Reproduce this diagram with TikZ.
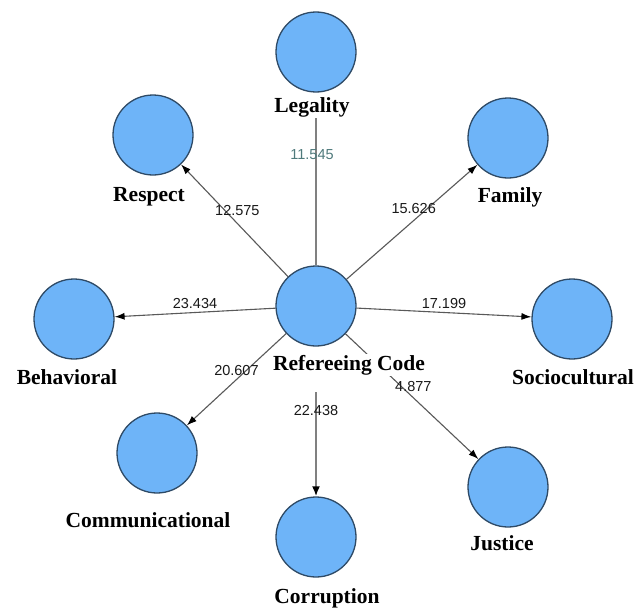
\documentclass[tikz,border=0pt]{standalone}
\usepackage{fontspec}
\setmainfont{Liberation Serif}
\newfontfamily\numfont{Liberation Sans}
\usetikzlibrary{arrows.meta,positioning,backgrounds}
\definecolor{lvblue}{HTML}{6EB4F8}
\definecolor{lvline}{HTML}{2E4A66}
\definecolor{wtteal}{HTML}{4F7A7C}

\begin{document}
\begin{tikzpicture}[x=1pt,y=-1pt,on grid,
        lv/.style={circle,draw=lvline,line width=1.3pt,fill=lvblue,minimum size=80pt,inner sep=0pt},
        lbl/.style={fill=white,inner sep=1pt,font=\fontsize{21.5}{24}\selectfont\bfseries},
        wt/.style={font=\numfont\fontsize{14.5}{16}\selectfont,text=black!90},
        lnk/.style={draw=black!65,line width=1.1pt,-{Latex[length=10pt,width=7pt,color=black]}},
        vlnk/.style={draw=black!50,line width=2pt}]
        \useasboundingbox (0,0) rectangle (636,610);
        % latent variables
        \node[lv] (ref) at (316,306) {};
        \node[lv] (leg) [above=254pt of ref] {};
        \node[lv] (res) [above left=171pt and 163pt of ref] {};
        \node[lv] (fam) [above right=168pt and 192pt of ref] {};
        \node[lv] (beh) [below left=13pt and 242pt of ref] {};
        \node[lv] (soc) [below right=13pt and 256pt of ref] {};
        \node[lv] (com) [below left=147pt and 159pt of ref] {};
        \node[lv] (cor) [below=231pt of ref] {};
        \node[lv] (jus) [below right=181pt and 192pt of ref] {};
        % names
        \node[lbl] (ref-t) [below right=59pt and 33pt of ref] {Refereeing Code};
        \node[lbl] (leg-t) [below left=55pt and 4pt of leg] {Legality};
        \node[lbl] (res-t) [below left=62pt and 4pt of res] {Respect};
        \node[lbl] (fam-t) [below right=59pt and 2pt of fam] {Family};
        \node[lbl] (beh-t) [below left=58pt and 7pt of beh] {Behavioral};
        \node[lbl] (soc-t) [below right=58pt and 1pt of soc] {Sociocultural};
        \node[lbl] (com-t) [below left=67pt and 9pt of com] {Communicational};
        \node[lbl] (cor-t) [below right=61pt and 11pt of cor] {Corruption};
        \node[lbl] (jus-t) [below left=56pt and 6pt of jus] {Justice};
        \begin{scope}[on background layer]
        \fill[white] (0,0) rectangle (636,610);
        \draw[vlnk] (ref.north) -- (leg-t.south -| ref.north)
            node[wt,pos=.75,xshift=-4pt,text=wtteal] {11.545};
        \draw[lnk] (ref) -- (res) node[wt,pos=.59,xshift=12.5pt] {12.575};
        \draw[lnk] (ref) -- (fam) node[wt,pos=.62,xshift=-14pt] {15.626};
        \draw[lnk] (ref) -- (beh) node[wt,pos=.5,above] {23.434};
        \draw[lnk] (ref) -- (soc) node[wt,pos=.5,above] {17.199};
        \draw[lnk] (ref) -- (com) node[wt,pos=.4,xshift=-10pt] {20.607};
        \draw[lnk] (ref) -- (jus) node[wt,pos=.42,xshift=12pt] {4.877};
        \draw[vlnk,-{Latex[length=10pt,width=8pt,color=black]},shorten <=16pt] (ref-t.south -| cor) -- (cor)
            node[wt,pos=.29] {22.438};
        \end{scope}
\end{tikzpicture}
\end{document}
